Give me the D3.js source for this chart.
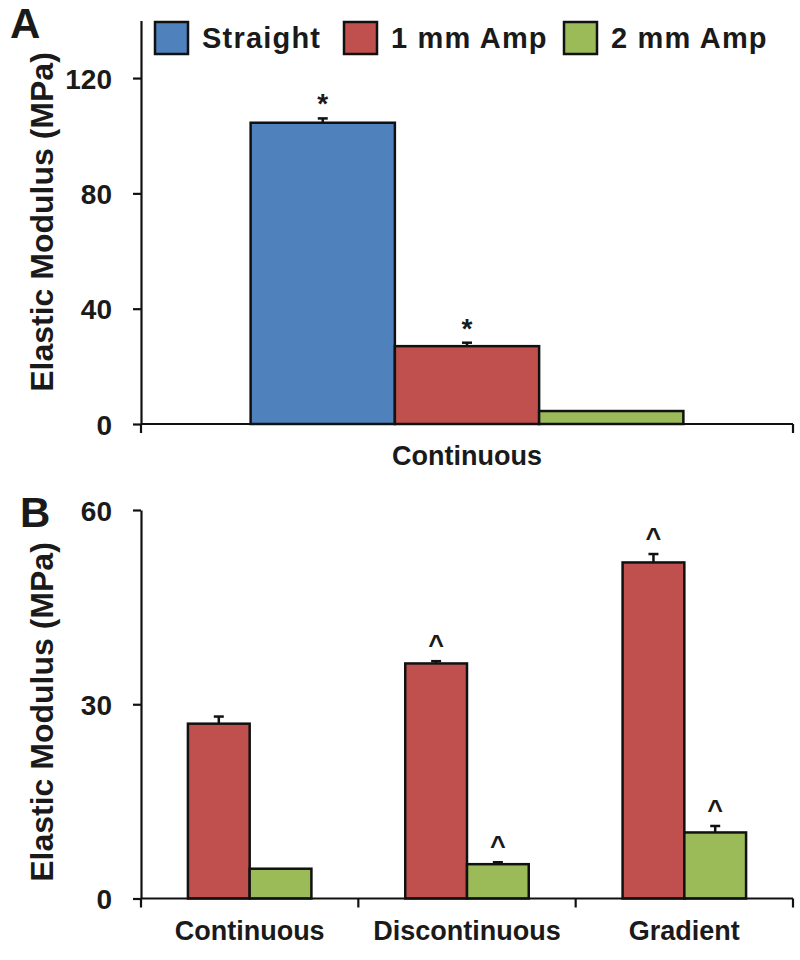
<!DOCTYPE html>
<html><head><meta charset="utf-8">
<script src="https://cdn.jsdelivr.net/npm/d3@7"></script>
<style>body{margin:0;background:#fff}svg{display:block}text{font-family:"Liberation Sans",Arial,sans-serif;font-weight:bold;fill:#1a1a1a}</style>
</head><body>
<script>
// ---- data ----
const seriesNames = ["Straight", "1 mm Amp", "2 mm Amp"];
const seriesColors = ["#4F81BD", "#C0504D", "#9BBB59"];
const aCategories = ["Continuous"];
const aValues = { "Straight": [104.5], "1 mm Amp": [27.0], "2 mm Amp": [4.5] };
const aErrors = { "Straight": [1.5], "1 mm Amp": [1.2], "2 mm Amp": [0] };
const aMarks = { "Straight": ["*"], "1 mm Amp": ["*"], "2 mm Amp": [""] };
const aTicks = [0, 40, 80, 120];
const aMax = 140;

const bSeries = ["1 mm Amp", "2 mm Amp"];
const bCategories = ["Continuous", "Discontinuous", "Gradient"];
const bValues = { "1 mm Amp": [27.0, 36.3, 51.9], "2 mm Amp": [4.6, 5.3, 10.2] };
const bErrors = { "1 mm Amp": [1.1, 0.35, 1.3], "2 mm Amp": [0, 0.3, 1.0] };
const bMarks = { "1 mm Amp": ["", "^", "^"], "2 mm Amp": ["", "^", "^"] };
const bTicks = [0, 30, 60];
const bMax = 60;
const yTitle = "Elastic Modulus (MPa)";

const W = 800, H = 960;
const svg = d3.select("body").append("svg").attr("width", W).attr("height", H);
const color = d3.scaleOrdinal(seriesNames, seriesColors);

function panel(opt) {
  const g = svg.append("g");
  const x0 = d3.scaleBand(opt.cats, [opt.left, opt.right]).padding(0);
  const x1 = d3.scaleBand(opt.series, [0, x0.bandwidth()]).paddingInner(0).paddingOuter(0.76);
  const y = d3.scaleLinear([0, opt.max], [opt.bottom, opt.top]);

  // bars
  opt.series.forEach(s => {
    opt.cats.forEach((c, i) => {
      const v = opt.values[s][i], e = opt.errors[s][i];
      const bx = x0(c) + x1(s), bw = x1.bandwidth();
      if (e > 0) {
        const cx = bx + bw / 2;
        g.append("line").attr("x1", cx).attr("x2", cx).attr("y1", y(v)).attr("y2", y(v + e))
          .attr("stroke", "#111").attr("stroke-width", 2.5);
        g.append("line").attr("x1", cx - 5).attr("x2", cx + 5).attr("y1", y(v + e)).attr("y2", y(v + e))
          .attr("stroke", "#111").attr("stroke-width", 2.5);
      }
      g.append("rect").attr("x", bx).attr("y", y(v)).attr("width", bw).attr("height", y(0) - y(v))
        .attr("fill", color(s)).attr("stroke", "#111").attr("stroke-width", 2.5);
      const m = opt.marks[s][i];
      if (m) {
        g.append("text").attr("x", bx + bw / 2).attr("y", y(v + e) - (m === "*" ? 5 : 7))
          .attr("text-anchor", "middle").attr("font-size", m === "*" ? 28 : 27).text(m);
      }
    });
  });

  // y axis
  const ya = g.append("g").attr("transform", `translate(${opt.left},0)`)
    .call(d3.axisLeft(y).tickValues(opt.ticks).tickSize(8).tickPadding(21).tickSizeOuter(0));
  ya.select(".domain").attr("stroke", "#111").attr("stroke-width", 2.2);
  ya.selectAll(".tick line").attr("stroke", "#111").attr("stroke-width", 2.2);
  ya.selectAll(".tick text").attr("font-size", 28).attr("font-family", '"Liberation Sans",Arial,sans-serif')
    .attr("font-weight", "bold").attr("fill", "#1a1a1a").attr("dy", "0.36em");

  // x axis
  const xa = g.append("g").attr("transform", `translate(0,${opt.bottom})`);
  xa.append("line").attr("x1", opt.left).attr("x2", opt.right).attr("y1", 0).attr("y2", 0)
    .attr("stroke", "#111").attr("stroke-width", 2.2);
  const bounds = opt.cats.map(c => x0(c)).concat([opt.right]);
  bounds.forEach(bx => {
    xa.append("line").attr("x1", bx).attr("x2", bx).attr("y1", 0).attr("y2", 9)
      .attr("stroke", "#111").attr("stroke-width", 2.2);
  });
  opt.cats.forEach(c => {
    xa.append("text").attr("x", x0(c) + x0.bandwidth() / 2).attr("y", opt.xLabelY)
      .attr("text-anchor", "middle").attr("font-size", 27).text(c);
  });

  // y title
  g.append("text").attr("transform", `translate(53,${opt.titleY}) rotate(-90)`)
    .attr("text-anchor", "middle").attr("font-size", 32).text(yTitle);

  // panel letter
  g.append("text").attr("x", opt.letterX).attr("y", opt.letterY).attr("font-size", 42).text(opt.letter);
}

panel({ cats: aCategories, series: seriesNames, values: aValues, errors: aErrors, marks: aMarks,
  ticks: aTicks, max: aMax, left: 141, right: 793, top: 20.4, bottom: 424, xLabelY: 41,
  titleY: 222, letter: "A", letterX: 10, letterY: 38 });

panel({ cats: bCategories, series: bSeries, values: bValues, errors: bErrors, marks: bMarks,
  ticks: bTicks, max: bMax, left: 141, right: 793, top: 510, bottom: 898.5, xLabelY: 41,
  titleY: 712, letter: "B", letterX: 20, letterY: 527 });

// legend
const legendX = [155, 344, 564];
const lg = svg.append("g");
seriesNames.forEach((s, i) => {
  lg.append("rect").attr("x", legendX[i]).attr("y", 22).attr("width", 33).attr("height", 32)
    .attr("fill", color(s)).attr("stroke", "#111").attr("stroke-width", 2.5);
  lg.append("text").attr("x", legendX[i] + 47).attr("y", 48).attr("font-size", 29)
    .attr("letter-spacing", 1.2).text(s);
});
</script>
</body></html>
